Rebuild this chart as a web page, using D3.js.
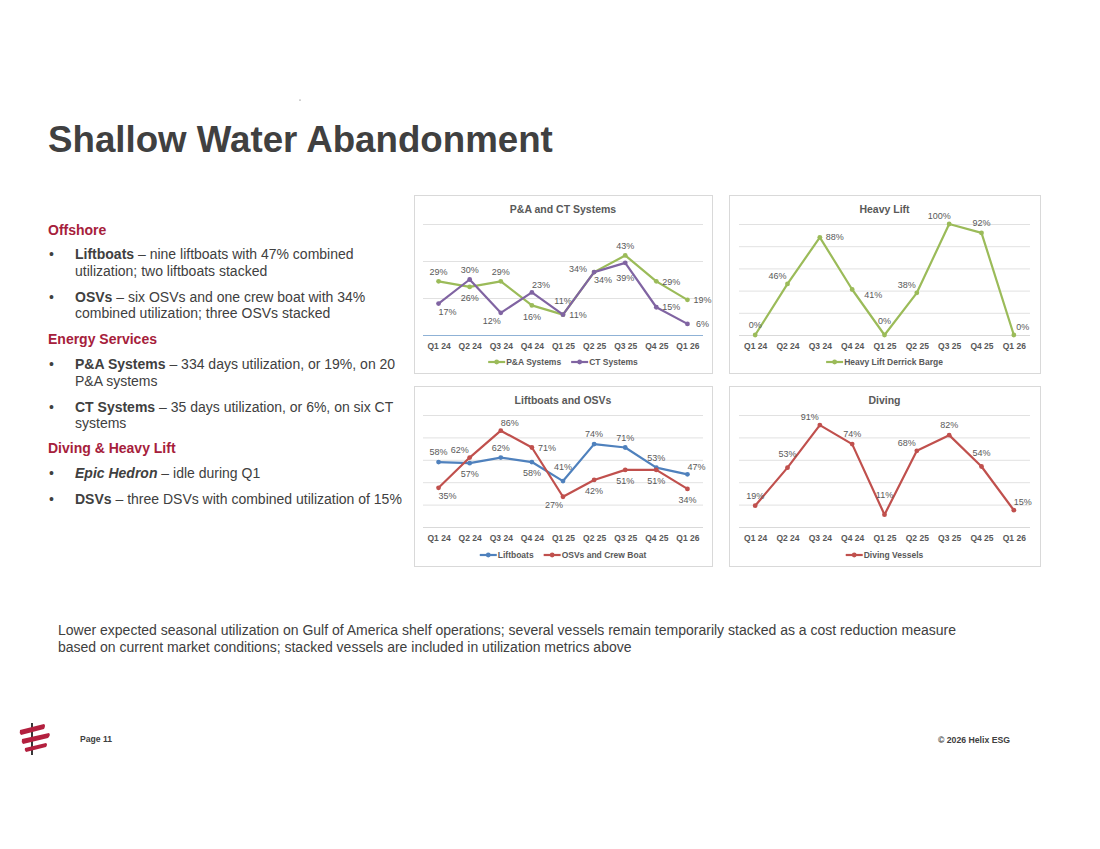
<!DOCTYPE html>
<html>
<head>
<meta charset="utf-8">
<script src="https://cdn.jsdelivr.net/npm/d3@7/dist/d3.min.js"></script>
<style>
  body { margin: 0; background: #fff; }
  svg { display: block; font-family: "Liberation Sans", Arial, sans-serif; }
</style>
</head>
<body>
<svg id="page" width="1100" height="849"></svg>
<script>
// ---- data ----
const quarters = ["Q1 24", "Q2 24", "Q3 24", "Q4 24", "Q1 25", "Q2 25", "Q3 25", "Q4 25", "Q1 26"];
const paSystems = [29, 26, 29, 16, 11, 34, 43, 29, 19];
const ctSystems = [17, 30, 12, 23, 11, 34, 39, 15, 6];
const heavyLift = [0, 46, 88, 41, 0, 38, 100, 92, 0];
const liftboats = [58, 57, 62, 58, 41, 74, 71, 53, 47];
const osvCrewBoat = [35, 62, 86, 71, 27, 42, 51, 51, 34];
const divingVessels = [19, 53, 91, 74, 11, 68, 82, 54, 15];
const gridTicks60 = [0, 20, 40, 60];
const gridTicks100 = [0, 20, 40, 60, 80, 100];

// where each data label sits relative to its point
const paLabelPos = ["t", "b", "t", "b", "tt", "l", "t", "r", "r"];
const ctLabelPos = ["br", "t", "bl", "tr", "r", "br", "bb", "r", "r"];
const hlLabelPos = ["t", "tl", "r", "rb", "tt", "tl", "tl", "t", "tr"];
const lbLabelPos = ["t", "b", "t", "b", "tt", "t", "t", "t", "tr"];
const osvLabelPos = ["br", "tl", "tr", "r", "bl", "b", "b", "b", "b"];
const divLabelPos = ["t", "tt", "tl", "t", "ttt", "tl", "t", "tt", "tr"];

const offsets = {
    t: [0, -10], tt: [0, -14], ttt: [0, -20], b: [0, 11], bb: [0, 15],
    r: [15, 0], rb: [21, 5], l: [-16, -3],
    tr: [9, -8], tl: [-10, -8], br: [9, 8], bl: [-9, 8]
};

const GREEN = "#9BBB59", PURPLE = "#8064A2", BLUE = "#4F81BD", RED = "#C0504D";
const TEXT = "#404040", LABEL = "#595959", GRID = "#d9d9d9", BRAND = "#A6203B";

const svg = d3.select("#page");

// ---- slide title ----
svg.append("text")
    .attr("x", 48).attr("y", 152)
    .attr("font-size", 36.7).attr("font-weight", "bold")
    .attr("fill", TEXT)
    .text("Shallow Water Abandonment");

svg.append("circle").attr("cx", 300).attr("cy", 100).attr("r", 0.6).attr("fill", "#555");

// ---- left text column ----
const bullets = [
    { head: "Offshore", y: 230 },
    { b: "Liftboats", rest: " \u2013 nine liftboats with 47% combined", y: 254 },
    { cont: "utilization; two liftboats stacked", y: 271 },
    { b: "OSVs", rest: " \u2013 six OSVs and one crew boat with 34%", y: 297 },
    { cont: "combined utilization; three OSVs stacked", y: 313 },
    { head: "Energy Services", y: 339 },
    { b: "P&A Systems", rest: " \u2013 334 days utilization, or 19%, on 20", y: 364 },
    { cont: "P&A systems", y: 381 },
    { b: "CT Systems", rest: " \u2013 35 days utilization, or 6%, on six CT", y: 407 },
    { cont: "systems", y: 423 },
    { head: "Diving & Heavy Lift", y: 448 },
    { b: "Epic Hedron", italic: true, rest: " \u2013 idle during Q1", y: 473 },
    { b: "DSVs", rest: " \u2013 three DSVs with combined utilization of 15%", y: 499 }
];

const col = svg.append("g").attr("font-size", 14);
bullets.forEach(d => {
    if (d.head) {
        col.append("text").attr("x", 48).attr("y", d.y).attr("dy", "0.35em")
            .attr("font-weight", "bold").attr("fill", BRAND).text(d.head);
        return;
    }
    const t = col.append("text").attr("x", 75).attr("y", d.y).attr("dy", "0.35em").attr("fill", TEXT);
    if (d.cont) { t.text(d.cont); return; }
    col.append("text").attr("x", 49).attr("y", d.y).attr("dy", "0.35em").attr("fill", TEXT).text("\u2022");
    t.append("tspan").attr("font-weight", "bold")
        .attr("font-style", d.italic ? "italic" : null).text(d.b);
    t.append("tspan").text(d.rest);
});

// ---- footnote ----
const note = [
    "Lower expected seasonal utilization on Gulf of America shelf operations; several vessels remain temporarily stacked as a cost reduction measure",
    "based on current market conditions; stacked vessels are included in utilization metrics above"
];
svg.append("g").selectAll("text").data(note).join("text")
    .attr("x", 58).attr("y", (d, i) => 630 + i * 17).attr("dy", "0.35em")
    .attr("font-size", 14).attr("fill", TEXT)
    .text(d => d);

// ---- footer ----
svg.append("text").attr("x", 80).attr("y", 739).attr("dy", "0.35em")
    .attr("font-size", 8.6).attr("font-weight", "bold").attr("fill", TEXT).text("Page 11");
svg.append("text").attr("x", 1010).attr("y", 740).attr("dy", "0.35em")
    .attr("text-anchor", "end")
    .attr("font-size", 8.7).attr("font-weight", "bold").attr("fill", TEXT).text("\u00a9 2026 Helix ESG");

const logo = svg.append("g");
logo.append("line").attr("x1", 32).attr("x2", 32).attr("y1", 723).attr("y2", 755)
    .attr("stroke", "#222").attr("stroke-width", 1.8);
[
    "M20,730 L44,724 Q46,725 44,729 L21,735 Q19,733 20,730Z",
    "M22,739 L49,733 Q51,735 48,738 L23,744 Q21,742 22,739Z",
    "M25,748 L46,743 Q48,744 46,747 L26,752 Q24,750 25,748Z"
].forEach(p => logo.append("path").attr("d", p).attr("fill", "#B3203F"));

// ---- the four charts ----
const panels = [
    {
        title: "P&A and CT Systems", box: [414, 195, 712, 373], plot: [423, 703, 224, 335],
        ticks: gridTicks60, axisColor: "#8FB2D6",
        series: [
            { name: "P&A Systems", values: paSystems, color: GREEN, pos: paLabelPos },
            { name: "CT Systems", values: ctSystems, color: PURPLE, pos: ctLabelPos }
        ]
    },
    {
        title: "Heavy Lift", box: [729, 195, 1040, 373], plot: [739, 1030, 224, 335],
        ticks: gridTicks100, axisColor: GRID,
        series: [
            { name: "Heavy Lift Derrick Barge", values: heavyLift, color: GREEN, pos: hlLabelPos }
        ]
    },
    {
        title: "Liftboats and OSVs", box: [414, 386, 712, 566], plot: [423, 703, 415, 527],
        ticks: gridTicks100, axisColor: GRID,
        series: [
            { name: "Liftboats", values: liftboats, color: BLUE, pos: lbLabelPos },
            { name: "OSVs and Crew Boat", values: osvCrewBoat, color: RED, pos: osvLabelPos }
        ]
    },
    {
        title: "Diving", box: [729, 386, 1040, 566], plot: [739, 1030, 415, 527],
        ticks: gridTicks100, axisColor: GRID,
        series: [
            { name: "Diving Vessels", values: divingVessels, color: RED, pos: divLabelPos }
        ]
    }
];

panels.forEach(drawPanel);

function drawPanel(p) {
    const [bx0, by0, bx1, by1] = p.box;
    const [px0, px1, py0, py1] = p.plot;
    const g = svg.append("g");

    g.append("rect")
        .attr("x", bx0 + 0.5).attr("y", by0 + 0.5)
        .attr("width", bx1 - bx0).attr("height", by1 - by0)
        .attr("fill", "#fff").attr("stroke", GRID).attr("stroke-width", 1);

    const x = d3.scalePoint().domain(quarters).range([px0, px1]).padding(0.5);
    const y = d3.scaleLinear().domain([0, d3.max(p.ticks)]).range([py1, py0]);

    // gridlines
    g.append("g")
        .attr("transform", `translate(${px0},0)`)
        .call(d3.axisLeft(y).tickValues(p.ticks.slice(1)).tickSize(-(px1 - px0)).tickFormat(""))
        .call(a => a.select(".domain").remove())
        .call(a => a.selectAll("line").attr("stroke", GRID).attr("stroke-width", 0.8));

    // category axis
    g.append("g")
        .attr("transform", `translate(0,${py1})`)
        .call(d3.axisBottom(x).tickSize(0).tickPadding(8))
        .call(a => a.select(".domain").attr("d", `M${px0},0.5H${px1}`)
            .attr("stroke", p.axisColor).attr("stroke-width", 1))
        .call(a => a.selectAll("text")
            .attr("font-family", "Liberation Sans, Arial, sans-serif")
            .attr("font-size", 8.5).attr("font-weight", "bold").attr("fill", LABEL));

    g.append("text")
        .attr("x", (px0 + px1) / 2).attr("y", by0 + 14).attr("dy", "0.35em")
        .attr("text-anchor", "middle")
        .attr("font-size", 10.5).attr("font-weight", "bold").attr("fill", LABEL)
        .text(p.title);

    const line = d3.line().x((d, i) => x(quarters[i])).y(d => y(d));

    p.series.forEach(s => {
        g.append("path")
            .attr("d", line(s.values))
            .attr("fill", "none").attr("stroke", s.color)
            .attr("stroke-width", 2.2).attr("stroke-linejoin", "round");

        g.append("g").selectAll("circle").data(s.values).join("circle")
            .attr("cx", (d, i) => x(quarters[i])).attr("cy", d => y(d))
            .attr("r", 2.4).attr("fill", s.color);

        g.append("g").selectAll("text").data(s.values).join("text")
            .attr("x", (d, i) => x(quarters[i]) + offsets[s.pos[i]][0])
            .attr("y", (d, i) => y(d) + offsets[s.pos[i]][1])
            .attr("dy", "0.35em").attr("text-anchor", "middle")
            .attr("font-size", 9).attr("fill", LABEL)
            .text(d => d + "%");
    });

    // legend, centred under the plot
    const leg = g.append("g");
    let cx = 0;
    p.series.forEach((s, i) => {
        const item = leg.append("g").attr("transform", `translate(${cx},0)`);
        item.append("line").attr("x1", 0).attr("x2", 17)
            .attr("stroke", s.color).attr("stroke-width", 2.2);
        item.append("circle").attr("cx", 8.5).attr("r", 2.4).attr("fill", s.color);
        const t = item.append("text").attr("x", 18).attr("dy", "0.35em")
            .attr("font-size", 8.5).attr("font-weight", "bold").attr("fill", LABEL)
            .text(s.name);
        cx += 18 + t.node().getComputedTextLength() + 10;
    });
    const legW = cx - 10;
    leg.attr("transform", `translate(${(px0 + px1) / 2 - legW / 2},${by1 - 11})`);
}
</script>
</body>
</html>
